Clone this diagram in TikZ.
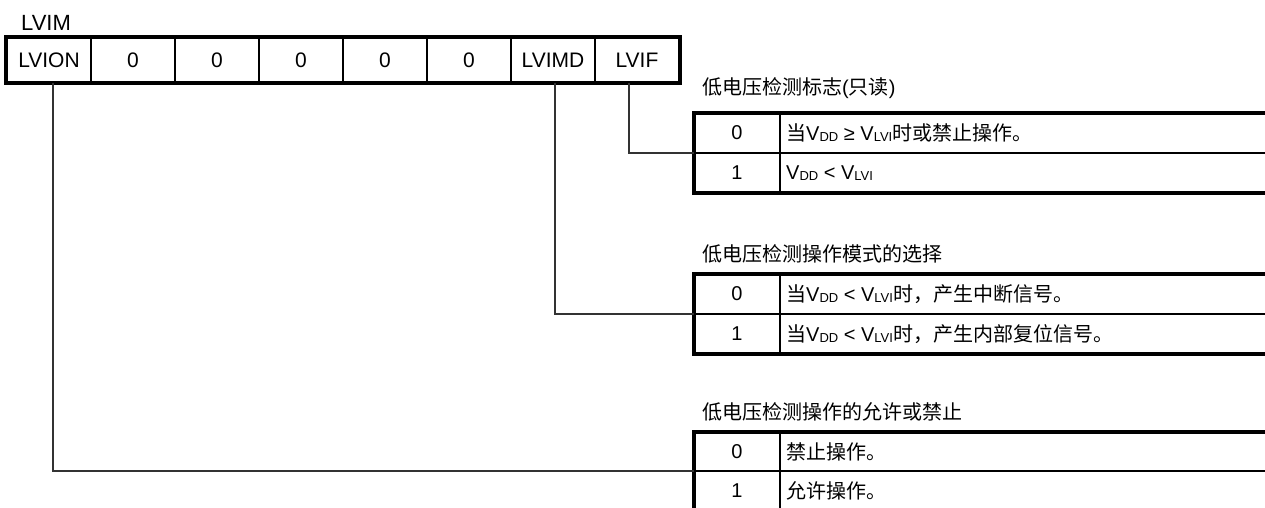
\documentclass[tikz,border=0pt]{standalone}
\usepackage{fontspec}
\setmainfont{Liberation Sans}
\newfontfamily\cjk{Noto Sans CJK SC}
\usetikzlibrary{calc}
\newcommand\lsub[1]{\raisebox{-1pt}{\fontsize{13}{13}\selectfont #1}}
\newcommand\VDD{V\lsub{DD}}
\newcommand\VLVI{V\lsub{LVI}}
\begin{document}
\begin{tikzpicture}[x=1pt,y=-1pt,
  regcell/.style={draw,line width=1.5pt,minimum width=84pt,minimum height=44pt,inner sep=0pt,font=\fontsize{21}{21}\selectfont},
  numcell/.style={inner sep=0pt,font=\fontsize{20}{20}\selectfont},
  txtcell/.style={anchor=west,inner sep=0pt,font=\fontsize{20}{20}\selectfont},
  hdr/.style={anchor=west,inner sep=0pt,font=\fontsize{20}{20}\selectfont},
  outer/.style={line width=4pt},
  inner/.style={line width=2pt},
  conn/.style={line width=1.2pt,black!80}]
\useasboundingbox (0,0) rectangle (1265,508);
\clip (0,0) rectangle (1265,508);
% register
\node[anchor=west,inner sep=0pt,font=\fontsize{22}{22}\selectfont] (lvim) at (21,23) {LVIM};
\node[regcell] (c0) at (49,60) {LVION};
\node[regcell] (c1) at (133,60) {0};
\node[regcell] (c2) at (217,60) {0};
\node[regcell] (c3) at (301,60) {0};
\node[regcell] (c4) at (385,60) {0};
\node[regcell] (c5) at (469,60) {0};
\node[regcell] (c6) at (553,60) {LVIMD};
\node[regcell] (c7) at (637,60) {LVIF};
\draw[outer] (c0.north west) rectangle (c7.south east);
% table 1
\node[hdr] (h1) at (702,88) {{\cjk 低电压检测标志}({\cjk 只读})};
\draw[outer] (1275,113) -| (694,193) -- (1275,193);
\draw[inner] (694,153) -- (1275,153);
\draw[inner] (780,113) -- (780,193);
\node[numcell] (t1n0) at (737,133) {0};
\node[numcell] (t1n1) at (737,173) {1};
\node[txtcell] (t1t0) at (786,133) {{\cjk 当}\VDD{} ≥ \VLVI{\cjk 时或禁止操作。}};
\node[txtcell] (t1t1) at (786,173) {\VDD{} < \VLVI};
\coordinate (t1in) at (694,153);
% table 2
\node[hdr] (h2) at (702,254) {\cjk 低电压检测操作模式的选择};
\draw[outer] (1275,274) -| (694,354) -- (1275,354);
\draw[inner] (694,314) -- (1275,314);
\draw[inner] (780,274) -- (780,354);
\node[numcell] (t2n0) at (737,294) {0};
\node[numcell] (t2n1) at (737,334) {1};
\node[txtcell] (t2t0) at (786,294) {{\cjk 当}\VDD{} < \VLVI{\cjk 时，产生中断信号。}};
\node[txtcell] (t2t1) at (786,334) {{\cjk 当}\VDD{} < \VLVI{\cjk 时，产生内部复位信号。}};
\coordinate (t2in) at (694,314);
% table 3
\node[hdr] (h3) at (702,412) {\cjk 低电压检测操作的允许或禁止};
\draw[outer] (1275,432) -| (694,520);
\draw[inner] (694,471) -- (1275,471);
\draw[inner] (780,432) -- (780,520);
\node[numcell] (t3n0) at (737,452) {0};
\node[numcell] (t3n1) at (737,491) {1};
\node[txtcell] (t3t0) at (786,452) {\cjk 禁止操作。};
\node[txtcell] (t3t1) at (786,491) {\cjk 允许操作。};
\coordinate (t3in) at (694,471);
% connectors
\draw[conn] ($(c7.south)+(-8,0)$) |- (t1in);
\draw[conn] ($(c6.south)+(2,0)$) |- (t2in);
\draw[conn] ($(c0.south)+(4,0)$) |- (t3in);
\end{tikzpicture}
\end{document}
